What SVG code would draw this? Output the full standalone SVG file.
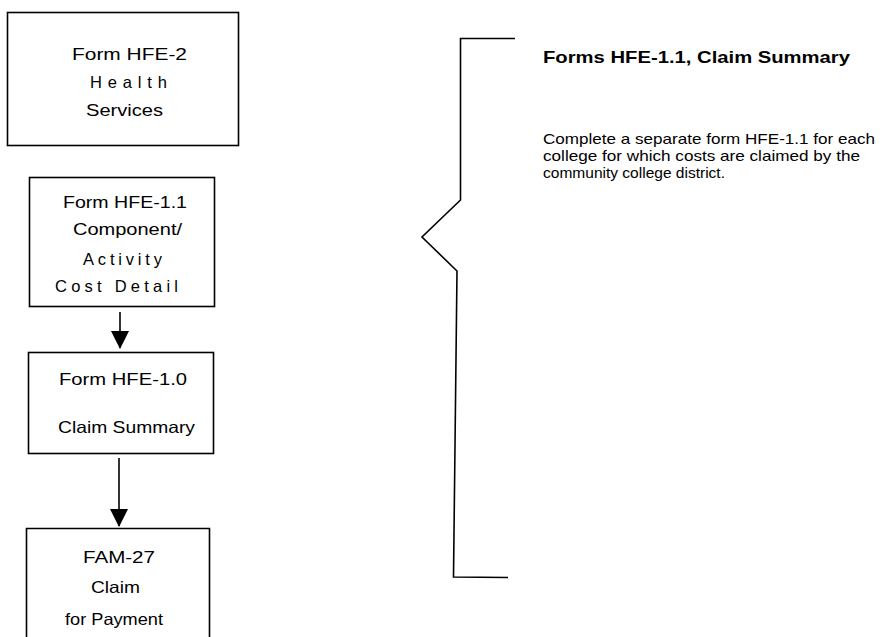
<svg xmlns="http://www.w3.org/2000/svg" width="880" height="637" viewBox="0 0 880 637">
<style>
.box{fill:none;stroke:#000;stroke-width:1.6}
.t{font-family:"Liberation Sans",Arial,sans-serif;font-size:16.5px;fill:#000;text-anchor:start}
.conn{stroke:#000;stroke-width:1.6;fill:none}
.title{font-family:"Liberation Sans",Arial,sans-serif;font-size:17px;font-weight:bold;fill:#000}
.body{font-family:"Liberation Sans",Arial,sans-serif;font-size:14.5px;fill:#000}
</style>
<defs>
<marker id="ah" markerWidth="18" markerHeight="18" viewBox="0 0 18 18" refX="17" refY="9" orient="auto" markerUnits="userSpaceOnUse">
<path d="M0,0 L18,9 L0,18 Z" fill="#000"/>
</marker>
</defs>
<rect width="880" height="637" fill="#fff"/>
<g id="node-hfe2">
<rect class="box" x="7.5" y="12.5" width="231" height="133"/>
<text class="t" x="72" y="60" textLength="115" lengthAdjust="spacingAndGlyphs">Form HFE-2</text>
<text class="t" x="90" y="88" textLength="77" lengthAdjust="spacing">Health</text>
<text class="t" x="86" y="116" textLength="77" lengthAdjust="spacingAndGlyphs">Services</text>
</g>
<g id="node-hfe11">
<rect class="box" x="29.5" y="177.5" width="185" height="129"/>
<text class="t" x="63" y="208" textLength="124" lengthAdjust="spacingAndGlyphs">Form HFE-1.1</text>
<text class="t" x="73" y="235" textLength="109" lengthAdjust="spacingAndGlyphs">Component/</text>
<text class="t" x="83" y="265" textLength="79" lengthAdjust="spacing">Activity</text>
<text class="t" x="55" y="292" textLength="123" lengthAdjust="spacing">Cost Detail</text>
</g>
<g id="node-hfe10">
<rect class="box" x="28.5" y="352.5" width="185" height="101"/>
<text class="t" x="59" y="385" textLength="128" lengthAdjust="spacingAndGlyphs">Form HFE-1.0</text>
<text class="t" x="58" y="433" textLength="137" lengthAdjust="spacingAndGlyphs">Claim Summary</text>
</g>
<g id="node-fam27">
<path class="box" d="M26.5,640 L26.5,528.5 L209.5,528.5 L209.5,640"/>
<text class="t" x="83" y="563" textLength="72" lengthAdjust="spacingAndGlyphs">FAM-27</text>
<text class="t" x="91" y="593" textLength="49" lengthAdjust="spacingAndGlyphs">Claim</text>
<text class="t" x="65" y="625" textLength="98" lengthAdjust="spacingAndGlyphs">for Payment</text>
</g>
<g id="node-note">
<path class="conn" d="M515,38.5 L460.5,38.5 L460.5,200 L422,237 L457,271 L453.5,577 L508,577.5"/>
<text class="title" x="543" y="63" textLength="307" lengthAdjust="spacingAndGlyphs">Forms HFE-1.1, Claim Summary</text>
<text class="body" x="543" y="144" textLength="332" lengthAdjust="spacingAndGlyphs">Complete a separate form HFE-1.1 for each</text>
<text class="body" x="543" y="161" textLength="317" lengthAdjust="spacingAndGlyphs">college for which costs are claimed by the</text>
<text class="body" x="543" y="178" textLength="182" lengthAdjust="spacingAndGlyphs">community college district.</text>
</g>
<g id="connectors">
<line class="conn" x1="120" y1="312" x2="120" y2="348" marker-end="url(#ah)"/>
<line class="conn" x1="119" y1="458" x2="119" y2="526" marker-end="url(#ah)"/>
</g>
</svg>
